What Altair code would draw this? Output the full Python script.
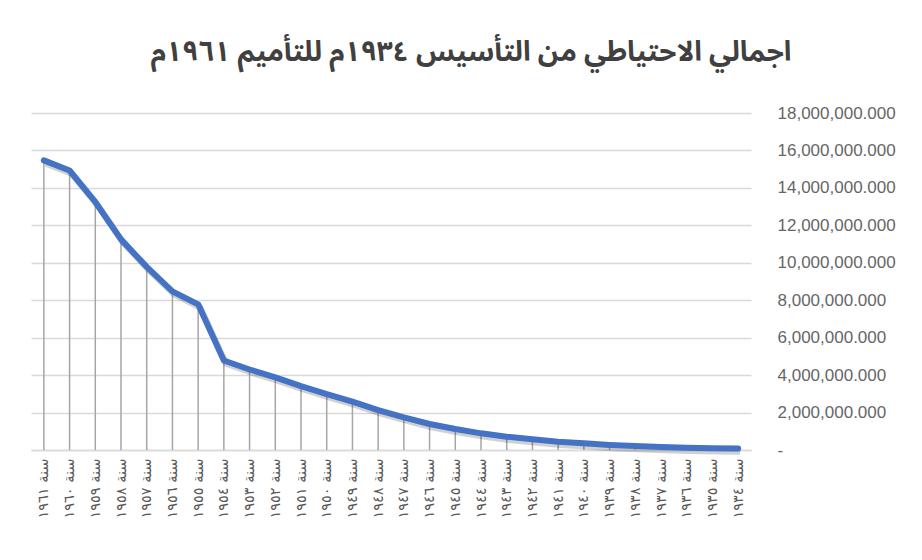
import altair as alt
import pandas as pd

years = ["سنة ١٩٦١", "سنة ١٩٦٠", "سنة ١٩٥٩", "سنة ١٩٥٨", "سنة ١٩٥٧", "سنة ١٩٥٦", "سنة ١٩٥٥",
         "سنة ١٩٥٤", "سنة ١٩٥٣", "سنة ١٩٥٢", "سنة ١٩٥١", "سنة ١٩٥٠", "سنة ١٩٤٩", "سنة ١٩٤٨",
         "سنة ١٩٤٧", "سنة ١٩٤٦", "سنة ١٩٤٥", "سنة ١٩٤٤", "سنة ١٩٤٣", "سنة ١٩٤٢", "سنة ١٩٤١",
         "سنة ١٩٤٠", "سنة ١٩٣٩", "سنة ١٩٣٨", "سنة ١٩٣٧", "سنة ١٩٣٦", "سنة ١٩٣٥", "سنة ١٩٣٤"]

reserve = [15470000, 14930000, 13250000, 11250000, 9780000, 8470000, 7780000,
           4780000, 4300000, 3880000, 3410000, 2990000, 2580000, 2130000,
           1740000, 1390000, 1120000, 890000, 710000, 570000, 440000,
           360000, 270000, 210000, 160000, 120000, 100000, 80000]

title_text = "اجمالي الاحتياطي من التأسيس ١٩٣٤م للتأميم ١٩٦١م"

df = pd.DataFrame({"year": years, "value": reserve})

x_enc = alt.X("year:N", sort=years, title=None,
              scale=alt.Scale(type="point", padding=0.5),
              axis=alt.Axis(labelAngle=270, labelFontSize=14.5, labelColor="#595959",
                            labelFont="DejaVu Sans", labelPadding=8, ticks=False,
                            domainColor="#d9d9d9", domainWidth=1.5, labelOverlap=False))
y_enc = alt.Y("value:Q", title=None,
              scale=alt.Scale(domain=[0, 18000000], nice=False),
              axis=alt.Axis(orient="right", values=list(range(0, 18000001, 2000000)),
                            labelExpr="datum.value == 0 ? '\u00a0-' : format(datum.value, ',.3f')",
                            labelFontSize=17, labelColor="#666666", labelFont="Liberation Sans",
                            labelPadding=26, ticks=False, domain=False,
                            gridColor="#d9d9d9", gridWidth=1.5))

base = alt.Chart(df)

drops = base.mark_rule(color="#a6a6a6", strokeWidth=1.5).encode(
    x=x_enc, y=y_enc, y2=alt.datum(0))

shadow = base.mark_line(color="#000000", opacity=0.18, strokeWidth=6.5,
                        xOffset=2, yOffset=3, strokeJoin="round").encode(x=x_enc, y=y_enc)

line = base.mark_line(color="#4472C4", strokeWidth=6, strokeJoin="round",
                      strokeCap="round").encode(x=x_enc, y=y_enc)

chart = alt.layer(drops, shadow, line).properties(
    width=720, height=337,
    background="white",
    title=alt.TitleParams(title_text, fontSize=28, font="Noto Sans Arabic, DejaVu Sans",
                          fontWeight="bold", color="#404040", anchor="middle",
                          frame="bounds", offset=37, dx=8),
    padding={"left": 31, "top": 113, "right": 171, "bottom": 110},
    autosize=alt.AutoSizeParams(type="none"),
).configure_view(stroke=None)

chart.save("out.html", embed_options={"renderer": "svg", "actions": False})
